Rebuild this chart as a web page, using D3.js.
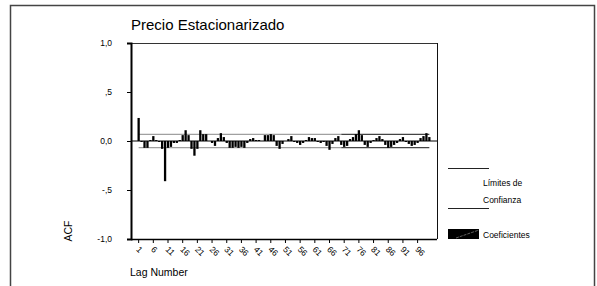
<!DOCTYPE html>
<html>
<head>
<meta charset="utf-8">
<script src="https://cdn.jsdelivr.net/npm/d3@7"></script>
<style>
  body { margin: 0; background: #fff; }
  text { font-family: "Liberation Sans", Arial, sans-serif; }
</style>
</head>
<body>
<svg id="chart" width="597" height="286"></svg>
<script>
// lags and autocorrelation coefficients
const lags = d3.range(1, 101);
const acf = [
  0.235, -0.01, -0.07, -0.07, 0.01, 0.05, 0.01, -0.01, -0.08, -0.41,
  -0.07, -0.06, -0.02, -0.02, 0.01, 0.06, 0.11, 0.06, -0.08, -0.15,
  -0.08, 0.11, 0.07, 0.07, 0.00, -0.02, -0.05, 0.03, 0.08, 0.04,
  -0.02, -0.07, -0.07, -0.06, -0.07, -0.06, -0.07, -0.02, 0.02, 0.03,
  0.01, 0.01, 0.00, 0.06, 0.06, 0.07, 0.06, -0.05, -0.08, -0.03,
  0.00, 0.02, 0.05, -0.01, -0.02, -0.04, -0.02, 0.01, 0.04, 0.03,
  0.03, -0.01, -0.02, -0.01, -0.05, -0.09, -0.03, 0.03, 0.05, -0.04,
  -0.06, -0.05, 0.02, 0.04, 0.07, 0.11, 0.06, -0.04, -0.06, -0.02,
  0.01, 0.03, 0.05, 0.02, -0.04, -0.07, -0.06, -0.04, -0.02, 0.02,
  0.04, -0.01, -0.03, -0.05, -0.04, -0.02, 0.03, 0.05, 0.08, 0.04
];
const confLimit = 0.067;
const tickLags = d3.range(1, 101, 5);
const yTicks = [1, 0.5, 0, -0.5, -1];
const yTickLabels = ["1,0", ",5", "0,0", "-,5", "-1,0"];

const svg = d3.select("#chart");

// outer frame
svg.append("rect")
  .attr("x", 10.5).attr("y", 5.5)
  .attr("width", 584).attr("height", 300)
  .attr("fill", "none").attr("stroke", "#444").attr("stroke-width", 1.5);

// plot area
const plot = { left: 131, right: 437, top: 43, bottom: 239 };

const x = d3.scaleBand()
  .domain(lags)
  .range([137.5, 430.5])
  .paddingInner(0.22);

const y = d3.scaleLinear().domain([-1, 1]).range([plot.bottom, plot.top]);

// frame of plot
svg.append("line")
  .attr("x1", plot.left).attr("x2", plot.right)
  .attr("y1", plot.top + 0.5).attr("y2", plot.top + 0.5)
  .attr("stroke", "#333");
svg.append("line")
  .attr("x1", plot.right + 0.5).attr("x2", plot.right + 0.5)
  .attr("y1", plot.top).attr("y2", plot.bottom)
  .attr("stroke", "#111");

// y axis
const yAxis = svg.append("g")
  .attr("transform", `translate(${plot.left},0)`)
  .call(d3.axisLeft(y).tickValues(yTicks)
    .tickFormat((d, i) => yTickLabels[i]).tickSizeOuter(0).tickSize(4).tickPadding(15));
yAxis.select(".domain").attr("stroke-width", 2);
yAxis.selectAll("text").attr("font-size", 8.5).attr("fill", "#000")
  .style("font-family", "Liberation Sans, Arial, sans-serif");

// x axis
const xAxis = svg.append("g")
  .attr("transform", `translate(0,${plot.bottom})`)
  .call(d3.axisBottom(x).tickValues(tickLags).tickSizeOuter(0).tickSize(4));
xAxis.select(".domain").attr("d", `M${plot.left},0.5H${plot.right}`).attr("stroke-width", 1.5);
xAxis.selectAll("text")
  .attr("font-size", 8.5)
  .attr("fill", "#000")
  .attr("text-anchor", "start")
  .attr("dy", 0)
  .attr("transform", "translate(2,6) rotate(45)")
  .style("font-family", "Liberation Sans, Arial, sans-serif");

// zero line
svg.append("line")
  .attr("x1", plot.left).attr("x2", plot.right)
  .attr("y1", y(0)).attr("y2", y(0))
  .attr("stroke", "#000");

// confidence limits
const cx = d => x(d) + x.bandwidth() / 2;
const split = 70;
[confLimit, -confLimit].forEach(c => {
  svg.append("line")
    .attr("x1", cx(1)).attr("x2", cx(split))
    .attr("y1", y(c)).attr("y2", y(c))
    .attr("stroke", "#a0a0a0").attr("stroke-width", 1.2);
  svg.append("line")
    .attr("x1", cx(split)).attr("x2", cx(100))
    .attr("y1", y(c)).attr("y2", y(c))
    .attr("stroke", "#444").attr("stroke-width", 1.2);
});

// bars
svg.append("g")
  .selectAll("rect")
  .data(lags)
  .join("rect")
    .attr("x", d => x(d))
    .attr("width", x.bandwidth())
    .attr("y", (d, i) => y(Math.max(0, acf[i])))
    .attr("height", (d, i) => Math.abs(y(acf[i]) - y(0)))
    .attr("fill", "#000");

// title and axis labels
svg.append("text")
  .attr("x", 131).attr("y", 30)
  .attr("font-size", 15)
  .text("Precio Estacionarizado");

svg.append("text")
  .attr("x", 130).attr("y", 276)
  .attr("font-size", 10.5)
  .text("Lag Number");

svg.append("text")
  .attr("transform", "translate(72,231) rotate(-90)")
  .attr("text-anchor", "middle")
  .attr("font-size", 10.5)
  .text("ACF");

// legend
const lg = svg.append("g");
lg.append("line").attr("x1", 448).attr("x2", 489).attr("y1", 168.5).attr("y2", 168.5).attr("stroke", "#222");
lg.append("line").attr("x1", 448).attr("x2", 489).attr("y1", 208.5).attr("y2", 208.5).attr("stroke", "#222");
lg.append("text").attr("x", 483).attr("y", 186).attr("font-size", 8.5).text("Límites de");
lg.append("text").attr("x", 483).attr("y", 203).attr("font-size", 8.5).text("Confianza");
lg.append("rect").attr("x", 448).attr("y", 229).attr("width", 31).attr("height", 10).attr("fill", "#000");
lg.append("line").attr("x1", 456).attr("y1", 238).attr("x2", 479).attr("y2", 230)
  .attr("stroke", "#777").attr("stroke-width", 0.8).attr("stroke-dasharray", "3,1");
lg.append("text").attr("x", 483).attr("y", 238).attr("font-size", 8.5).text("Coeficientes");
</script>
</body>
</html>
